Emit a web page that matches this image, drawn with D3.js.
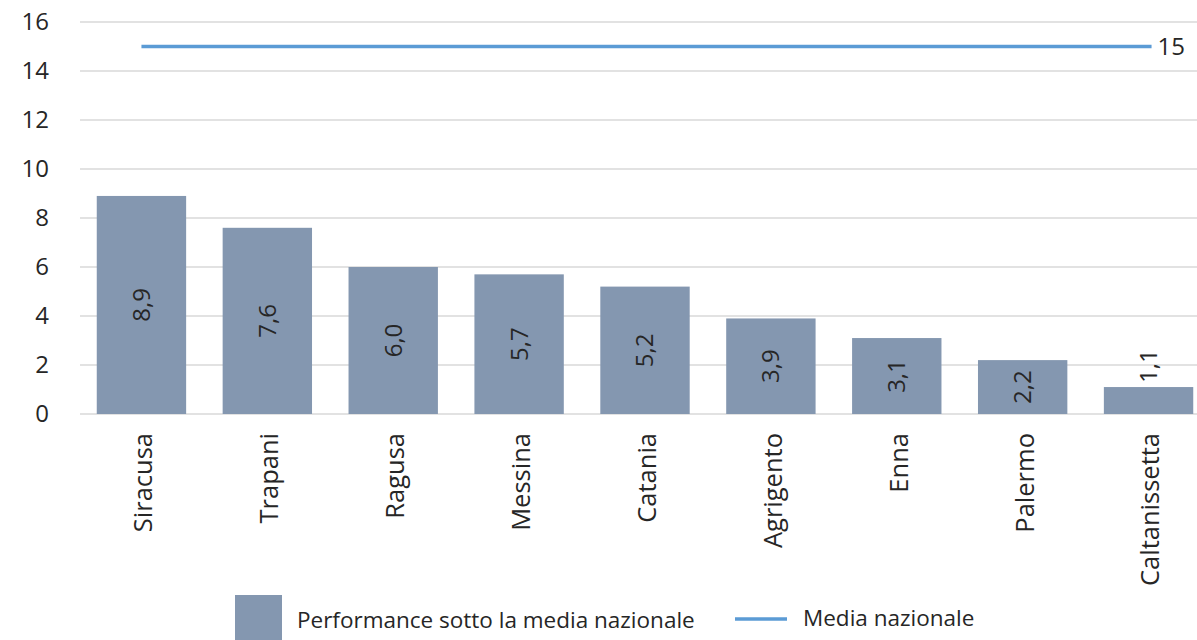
<!DOCTYPE html>
<html>
<head>
<meta charset="utf-8">
<script src="https://cdn.jsdelivr.net/npm/d3@7"></script>
<style>
  body { margin: 0; background: #fff; }
  text { font-family: "Open Sans", sans-serif; fill: #262626; }
</style>
</head>
<body>
<svg id="chart"></svg>
<script>
// data
var province = ["Siracusa", "Trapani", "Ragusa", "Messina", "Catania", "Agrigento", "Enna", "Palermo", "Caltanissetta"];
var valori = [8.9, 7.6, 6.0, 5.7, 5.2, 3.9, 3.1, 2.2, 1.1];
var mediaNazionale = 15;
var yTicks = [0, 2, 4, 6, 8, 10, 12, 14, 16];
var legendLabels = ["Performance sotto la media nazionale", "Media nazionale"];

var screen = { width: 1197, height: 640 };

var barColor = "#8497b0";
var lineColor = "#5b9bd5";
var gridColor = "#d9d9d9";

var svg = d3.select("#chart")
            .attr("width", screen.width)
            .attr("height", screen.height);

var xScale = d3.scaleBand()
               .domain(province)
               .range([78.5, 1211.5])
               .paddingInner(0.29)
               .paddingOuter(0.145);

var yScale = d3.scaleLinear()
               .domain([0, 16])
               .range([414, 22]);

// gridlines
svg.append("g")
   .selectAll("line")
   .data(yTicks)
   .enter()
   .append("line")
   .attr("x1", 80)
   .attr("x2", screen.width)
   .attr("y1", function(d) { return yScale(d); })
   .attr("y2", function(d) { return yScale(d); })
   .attr("stroke", gridColor)
   .attr("stroke-width", 1.5);

// y axis labels
var yAxis = d3.axisLeft(yScale).tickValues(yTicks).tickSize(0).tickPadding(0);
var yAxisGraphic = svg.append("g")
                      .attr("transform", "translate(49,0)")
                      .call(yAxis);
yAxisGraphic.select(".domain").remove();
yAxisGraphic.selectAll("text")
            .style("font-family", "'Open Sans', sans-serif")
            .style("font-size", "24px")
            .attr("fill", "#262626");

// bars
svg.append("g")
   .selectAll("rect")
   .data(valori)
   .enter()
   .append("rect")
   .attr("x", function(d, i) { return xScale(province[i]); })
   .attr("y", function(d) { return yScale(d); })
   .attr("width", xScale.bandwidth())
   .attr("height", function(d) { return yScale(0) - yScale(d); })
   .attr("fill", barColor);

// value labels (rotated)
svg.append("g")
   .selectAll("text")
   .data(valori)
   .enter()
   .append("text")
   .attr("transform", function(d, i) {
      var cx = xScale(province[i]) + xScale.bandwidth() / 2;
      var cy = d < 2 ? yScale(d) - 4 : (yScale(d) + yScale(0)) / 2;
      return "translate(" + cx + "," + cy + ") rotate(-90)";
   })
   .attr("text-anchor", function(d) { return d < 2 ? "start" : "middle"; })
   .attr("dy", "0.35em")
   .style("font-size", "24px")
   .text(function(d) { return d.toFixed(1).replace(".", ","); });

// category labels
svg.append("g")
   .selectAll("text")
   .data(province)
   .enter()
   .append("text")
   .attr("transform", function(d) {
      return "translate(" + (xScale(d) + xScale.bandwidth() / 2 + 2) + ",433) rotate(-90)";
   })
   .attr("text-anchor", "end")
   .attr("dy", "0.35em")
   .style("font-size", "25.5px")
   .text(function(d) { return d; });

// media nazionale line
var firstC = xScale(province[0]) + xScale.bandwidth() / 2;
var lastC = xScale(province[province.length - 1]) + xScale.bandwidth() / 2;
svg.append("line")
   .attr("x1", firstC)
   .attr("x2", lastC + 3)
   .attr("y1", yScale(mediaNazionale))
   .attr("y2", yScale(mediaNazionale))
   .attr("stroke", lineColor)
   .attr("stroke-width", 3.5);

svg.append("text")
   .attr("x", lastC + 9)
   .attr("y", yScale(mediaNazionale))
   .attr("dy", "0.35em")
   .style("font-size", "24px")
   .text(mediaNazionale);

// legend
var legend = svg.append("g");
legend.append("rect")
      .attr("x", 235)
      .attr("y", 595)
      .attr("width", 47)
      .attr("height", 45)
      .attr("fill", barColor);
legend.append("text")
      .attr("x", 297)
      .attr("y", 628)
      .style("font-size", "22.5px")
      .text(legendLabels[0]);
legend.append("line")
      .attr("x1", 735)
      .attr("x2", 787)
      .attr("y1", 619)
      .attr("y2", 619)
      .attr("stroke", lineColor)
      .attr("stroke-width", 3.5);
legend.append("text")
      .attr("x", 803)
      .attr("y", 626)
      .style("font-size", "22.5px")
      .text(legendLabels[1]);
</script>
</body>
</html>
